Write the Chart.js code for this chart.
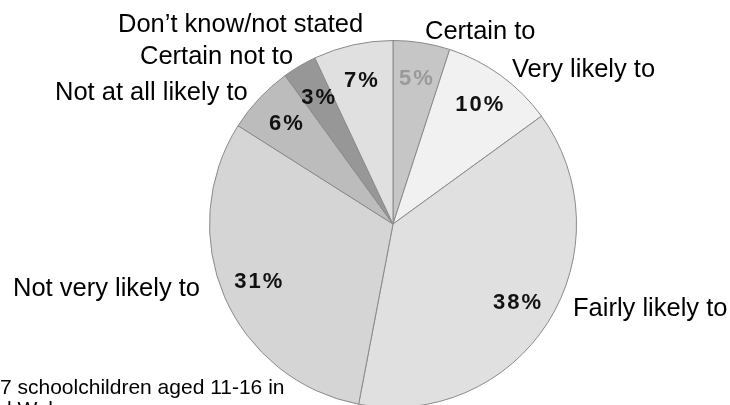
<!DOCTYPE html>
<html>
<head>
<meta charset="utf-8">
<title>Likelihood pie</title>
<script src="https://cdn.jsdelivr.net/npm/chart.js@4/dist/chart.umd.min.js"></script>
<style>
  html, body { margin: 0; padding: 0; background: #fff; overflow: hidden; }
  #wrap { position: absolute; left: 0; top: 0; width: 730px; height: 410px; }
</style>
</head>
<body>
<div id="wrap"><canvas id="pie"></canvas></div>
<script>
'use strict';

/* ---- Data ---- */
const categories = [
  'Certain to',
  'Very likely to',
  'Fairly likely to',
  'Not very likely to',
  'Not at all likely to',
  'Certain not to',
  'Don\u2019t know/not stated'
];
const shares = [5, 10, 38, 31, 6, 3, 7];
const footnote = ['7 schoolchildren aged 11-16 in', 'd Wales'];

/* ---- Look ---- */
const sliceColors  = ['#c6c6c6', '#f1f1f1', '#e0e0e0', '#d5d5d5', '#bcbcbc', '#979797', '#e0e0e0'];
const pctColors    = ['#9a9a9a', '#111', '#111', '#111', '#111', '#111', '#111'];
const FONT = 'Arial, "Liberation Sans", Helvetica, sans-serif';

// left x / baseline y for the category names around the pie
const nameSpots = [
  [425, 39], [512, 77], [573, 316], [13, 296], [55, 100], [140, 64], [118, 32]
];

/* ---- Label plugin: percentages inside, names outside ---- */
const pieLabels = {
  id: 'pieLabels',
  afterDraw(chart) {
    const { ctx } = chart;
    const arcs = chart.getDatasetMeta(0).data;
    ctx.save();

    // percentages at ~80% of the radius along each slice's mid-angle
    ctx.font = 'bold 22px ' + FONT;
    ctx.letterSpacing = '2px';
    ctx.textAlign = 'center';
    ctx.textBaseline = 'middle';
    arcs.forEach((arc, i) => {
      const { x, y, startAngle, endAngle, outerRadius } = arc.getProps(['x', 'y', 'startAngle', 'endAngle', 'outerRadius'], true);
      const mid = (startAngle + endAngle) / 2;
      const r = outerRadius * 0.8;
      ctx.fillStyle = pctColors[i];
      ctx.fillText(shares[i] + '%', x + Math.cos(mid) * r + 1, y + Math.sin(mid) * r);
    });

    // category names
    ctx.letterSpacing = '0px';
    ctx.font = '25.5px ' + FONT;
    ctx.textAlign = 'left';
    ctx.textBaseline = 'alphabetic';
    ctx.fillStyle = '#000';
    categories.forEach((name, i) => {
      ctx.fillText(name, nameSpots[i][0], nameSpots[i][1]);
    });

    // source note, bottom left
    ctx.font = '21px ' + FONT;
    ctx.fillText(footnote[0], 0, 394);
    ctx.fillText(footnote[1], 0, 416);

    ctx.restore();
  }
};

/* ---- Chart ---- */
new Chart(document.getElementById('pie'), {
  type: 'pie',
  data: {
    labels: categories,
    datasets: [{
      data: shares,
      backgroundColor: sliceColors,
      borderColor: '#8a8a8a',
      borderWidth: 1
    }]
  },
  options: {
    responsive: true,
    maintainAspectRatio: false,
    animation: false,
    layout: { padding: { top: 40, bottom: 2, left: 209, right: 153 } },
    plugins: {
      legend: { display: false },
      tooltip: { enabled: false }
    }
  },
  plugins: [pieLabels]
});
</script>
</body>
</html>
